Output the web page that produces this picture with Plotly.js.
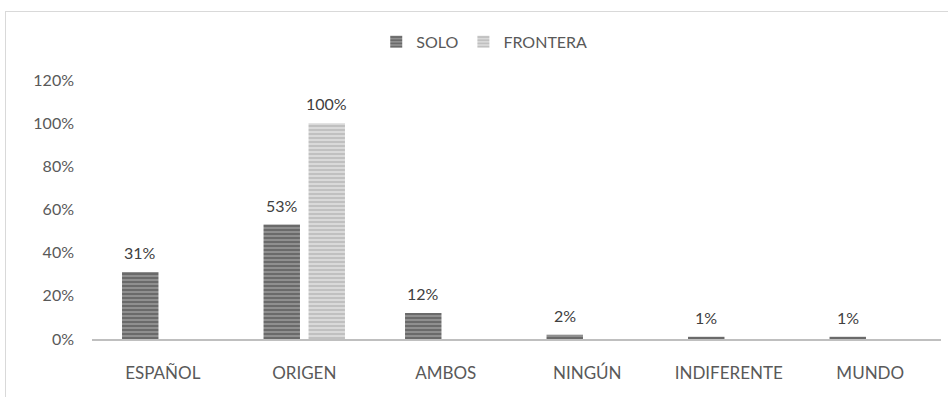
<!DOCTYPE html>
<html>
<head>
<meta charset="utf-8">
<script src="https://cdn.plot.ly/plotly-3.0.1.min.js"></script>
<style>
html,body{margin:0;padding:0;background:#fff;overflow:hidden;width:948px;height:397px;}
#chart{position:absolute;left:0;top:0;width:948px;height:397px;}
#frame{position:absolute;left:5px;top:11px;width:1000px;height:500px;border:1px solid #d9d9d9;pointer-events:none;}
</style>
</head>
<body>
<div id="chart"></div>
<div id="frame"></div>
<script>
var categories = ["ESPAÑOL", "ORIGEN", "AMBOS", "NINGÚN", "INDIFERENTE", "MUNDO"];
var soloValues = [0.31, 0.53, 0.12, 0.02, 0.01, 0.01];
var fronteraValues = [0, 1.00, 0, 0, 0, 0];
var yTickValues = [0, 0.2, 0.4, 0.6, 0.8, 1.0, 1.2];
var yTickLabels = ["0%", "20%", "40%", "60%", "80%", "100%", "120%"];

function pct(v){ return Math.round(v*100) + "%"; }

var FONT = "Lato, sans-serif";

var traces = [
  {
    type: "bar", name: "SOLO", x: categories, y: soloValues,
    marker: {color: "#8a8a8a", line: {width: 0},
      pattern: {shape: "-", fgcolor: "#666666", bgcolor: "#8f8f8f", size: 4, solidity: 0.45}},
    hoverinfo: "none"
  },
  {
    type: "bar", name: "FRONTERA", x: categories, y: fronteraValues,
    marker: {color: "#d4d4d4", line: {width: 0},
      pattern: {shape: "-", fgcolor: "#bdbdbd", bgcolor: "#d9d9d9", size: 4, solidity: 0.45}},
    hoverinfo: "none"
  }
];

// value labels, placed at each bar via the axes
var annotations = [];
function addLabels(vals, xshift){
  vals.forEach(function(v, i){
    if (v > 0) {
      annotations.push({
        x: categories[i], y: v, xref: "x", yref: "y",
        text: pct(v), showarrow: false, xanchor: "center", yanchor: "bottom",
        xshift: xshift, yshift: 8,
        font: {family: FONT, size: 16, color: "#404040"}
      });
    }
  });
}
addLabels(soloValues, -22.5);
addLabels(fronteraValues, 22.5);

var layout = {
  width: 948, height: 397,
  margin: {l: 92, r: 7, t: 80, b: 58},
  paper_bgcolor: "rgba(0,0,0,0)", plot_bgcolor: "rgba(0,0,0,0)",
  font: {family: FONT, size: 16, color: "#595959"},
  barmode: "group", bargap: 0.364, bargroupgap: 0.19,
  showlegend: true,
  legend: {orientation: "h", x: 0.462, xanchor: "center", y: 1.147, yanchor: "middle",
    font: {family: FONT, size: 16, color: "#595959"}, itemwidth: 30, traceorder: "normal"},
  annotations: annotations,
  xaxis: {
    type: "category", showgrid: false, zeroline: false,
    showline: true, linecolor: "#bfbfbf", linewidth: 2,
    ticks: "", ticklabelstandoff: 18,
    tickfont: {family: FONT, size: 17, color: "#595959"}
  },
  yaxis: {
    range: [0, 1.2], showgrid: false, zeroline: false, showline: false,
    tickmode: "array", tickvals: yTickValues, ticktext: yTickLabels,
    ticks: "", ticklabelstandoff: 17,
    tickfont: {family: FONT, size: 16, color: "#595959"}
  }
};

Plotly.newPlot("chart", traces, layout, {staticPlot: true, displayModeBar: false});
</script>
</body>
</html>
